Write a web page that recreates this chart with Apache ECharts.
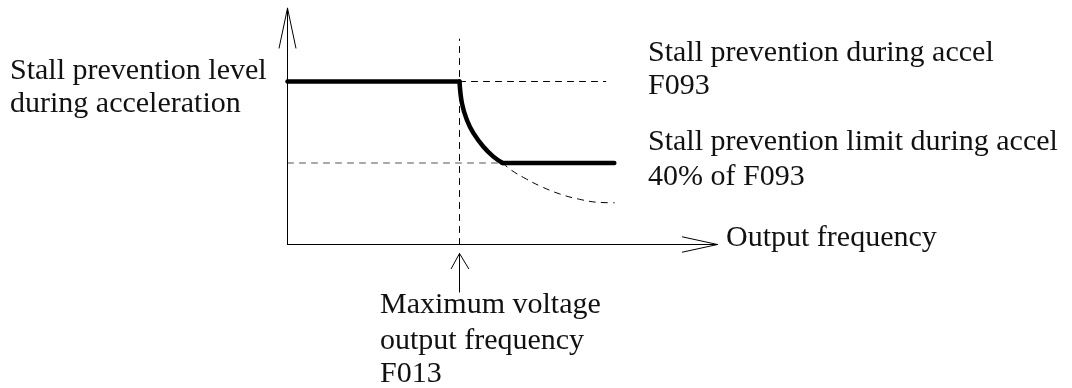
<!DOCTYPE html>
<html>
<head>
<meta charset="utf-8">
<script src="https://cdn.jsdelivr.net/npm/echarts@6/dist/echarts.min.js"></script>
<style>
  html, body { margin: 0; padding: 0; background: #fff; }
  #stall_chart { width: 1072px; height: 388px; }
</style>
</head>
<body>
<div id="stall_chart"></div>
<script>
// 失速防止曲线 stall_chart
var stall_chart = echarts.init(document.getElementById('stall_chart'))

// x: 输出频率 (100 = 最大电压输出频率), y: 失速防止水平 (100 = F093)
var levelLine = [[0, 100], [100, 100]]
var curveLine = [[100, 100], [101.4, 86.7], [104.3, 76.4], [108.1, 68.3], [113.9, 60], [119.7, 53.9], [125, 50]]
var limitLine = [[125, 50], [190, 50]]
var curveDashed = [[125, 50], [130.4, 45.4], [138.1, 40.6], [146.8, 35.9], [158.3, 31], [169.9, 27.7], [181.5, 25.8], [190, 25.6]]
var guideTop = [[100, 100], [185, 100]]
var guideLow = [[0, 50], [125, 50]]
var guideFreq = [[100, 0], [100, 126]]
var axisYLine = [[0, 0], [0, 145]]
var axisXLine = [[0, 0], [250, 0]]
var arrowY = [[-4.9, 120.5], [0, 145], [4.9, 120.5]]
var arrowX = [[229.6, 4.7], [250, 0], [229.6, -4.7]]
var arrowFreqShaft = [[100, -5.5], [100, -29.2]]
var arrowFreqHead = [[95.2, -14.8], [100, -5.5], [105.3, -14.8]]

var fontFamily = '"Liberation Serif", "DejaVu Serif", serif'
var fontSize = 30

function lineSeries(data, width, type, color) {
  return {
    type: 'line',
    data: data,
    symbol: 'none',
    clip: false,
    silent: true,
    smooth: false,
    lineStyle: {
      color: color || '#000',
      width: width,
      type: type || 'solid',
      cap: 'round',
    },
  }
}

// 文本按中线定位
function textItem(str, x, y) {
  return {
    type: 'text',
    x: x,
    y: y,
    style: {
      text: str,
      fill: '#111',
      font: fontSize + 'px ' + fontFamily,
      align: 'left',
      verticalAlign: 'middle',
    },
  }
}

var curveSeries = lineSeries(curveLine, 4.5)
curveSeries.smooth = 0.4
var curveDashedSeries = lineSeries(curveDashed, 1, [6, 6])
curveDashedSeries.smooth = 0.4

stall_chart_option = {
  animation: false,
  grid: {
    left: 270.3,
    right: 354.5,
    top: 8.15,
    bottom: 143.5,
  },
  xAxis: {
    type: 'value',
    min: -10,
    max: 250,
    show: false,
    splitLine: { show: false },
  },
  yAxis: {
    type: 'value',
    min: 0,
    max: 145,
    show: false,
    splitLine: { show: false },
  },
  series: [
    lineSeries(guideTop, 1, [6, 6]),
    lineSeries(guideLow, 1, [6, 6], '#555'),
    lineSeries(guideFreq, 1, [6, 6]),
    curveDashedSeries,
    lineSeries(axisXLine, 1),
    lineSeries(axisYLine, 1),
    lineSeries(levelLine, 4.5),
    curveSeries,
    lineSeries(limitLine, 4.5),
    lineSeries(arrowY, 1),
    lineSeries(arrowX, 1),
    lineSeries(arrowFreqShaft, 1),
    lineSeries(arrowFreqHead, 1),
  ],
  graphic: [
    textItem('Stall prevention level', 10, 71.5),
    textItem('during acceleration', 10, 104.5),
    textItem('Stall prevention during accel', 648, 53.5),
    textItem('F093', 648, 86.5),
    textItem('Stall prevention limit during accel', 648, 142.5),
    textItem('40% of F093', 648, 177),
    textItem('Output frequency', 726, 238.5),
    textItem('Maximum voltage', 380, 305.5),
    textItem('output frequency', 380, 341.5),
    textItem('F013', 380, 374.5),
  ],
}
stall_chart.setOption(stall_chart_option)

window.addEventListener('resize', function () {
  stall_chart.resize()
})
</script>
</body>
</html>
